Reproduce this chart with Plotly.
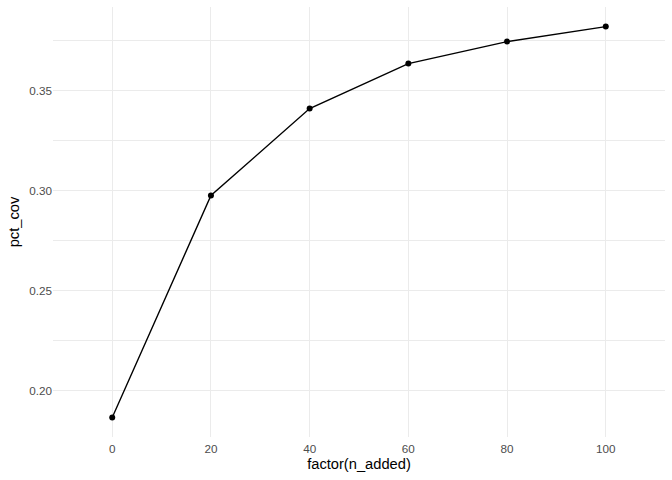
import plotly.graph_objects as go

n_added = ["0", "20", "40", "60", "80", "100"]
pct_cov = [0.1865, 0.2975, 0.341, 0.3635, 0.3745, 0.382]
y_ticks = [0.20, 0.25, 0.30, 0.35]
y_tick_labels = ["0.20", "0.25", "0.30", "0.35"]

FONT = "Liberation Sans, Arial, Helvetica, sans-serif"
GRID = "#EBEBEB"

fig = go.Figure()
fig.add_trace(go.Scatter(
    x=n_added, y=pct_cov, mode="lines+markers",
    line=dict(color="black", width=1.4),
    marker=dict(color="black", size=6),
    showlegend=False, hoverinfo="skip",
))

fig.update_layout(
    width=672, height=480,
    margin=dict(l=53, r=7, t=7, b=43, autoexpand=False),
    paper_bgcolor="white", plot_bgcolor="white",
    font=dict(family=FONT, color="#4D4D4D"),
    xaxis=dict(
        type="category", categoryorder="array", categoryarray=n_added,
        range=[-0.6, 5.6], showgrid=True, gridcolor=GRID, gridwidth=1.1,
        zeroline=False, showline=False, ticks="", automargin=True,
        ticklabelstandoff=3,
        tickfont=dict(size=11.7, color="#4D4D4D", family=FONT),
        title=dict(text="factor(n_added)", font=dict(size=14.7, color="black", family=FONT), standoff=5),
    ),
    yaxis=dict(
        range=[0.1767, 0.3918], tickmode="array", tickvals=y_ticks, ticktext=y_tick_labels,
        showgrid=True, gridcolor=GRID, gridwidth=1.1,
        minor=dict(tickmode="array", tickvals=[0.225, 0.275, 0.325, 0.375], showgrid=True, gridcolor=GRID, gridwidth=0.55, ticks=""),
        zeroline=False, showline=False, ticks="", automargin=True,
        tickfont=dict(size=11.7, color="#4D4D4D", family=FONT),
        title=dict(text="pct_cov", font=dict(size=14.7, color="black", family=FONT), standoff=6),
    ),
)

fig.write_html("out.html", config={"displayModeBar": False},
               post_script="document.body.style.margin='0';")
